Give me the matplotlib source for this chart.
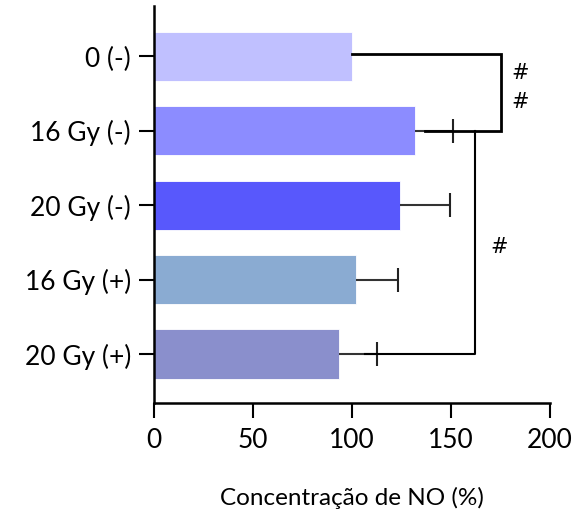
import numpy as np
import matplotlib.pyplot as plt

plt.rcParams['font.family'] = ['Lato', 'DejaVu Sans']

groups = ["0 (-)", "16 Gy (-)", "20 Gy (-)", "16 Gy (+)", "20 Gy (+)"]
no_conc = [100, 132, 124.5, 102, 93.5]
sd = [0, 19, 25, 21, 19]
colors = ["#c0c0ff", "#8c8cff", "#5858fc", "#8aabd2", "#8a8fcc"]
xticks = [0, 50, 100, 150, 200]

fig = plt.figure(figsize=(5.76, 5.2), dpi=100)
ax = fig.add_axes([0.267, 0.2256, 0.688, 0.763])

y = np.arange(len(groups))
vals = np.array(no_conc)
errs = np.array(sd)
ax.barh(y, vals, height=0.66, color=colors, edgecolor="white", linewidth=0.6, zorder=2)

# one-sided error bars (upper side only)
m = errs > 0
ax.hlines(y[m], vals[m], vals[m] + errs[m], color="#333333", lw=1.5, zorder=3)
ax.plot(vals[m] + errs[m], y[m], ls="none", marker="|", ms=17, mew=1.5, color="#222222", zorder=3)

# significance brackets
ax.plot([vals[0], 175, 175, vals[1] + 5], [y[0] - 0.03, y[0] - 0.03, y[1], y[1]],
        color="black", lw=2, zorder=4, solid_joinstyle="miter")
ax.plot([162, 162, vals[4] + 13], [y[1], y[4], y[4]], color="black", lw=1.5, zorder=4)
for hx, hy in [(185, 0.22), (185, 0.61), (174.5, 2.56)]:
    ax.text(hx, hy, "#", ha="center", va="center", fontsize=15, family="DejaVu Sans")

ax.set_xlim(0, 200)
ax.set_ylim(4.655, -0.68)
ax.set_xticks(xticks)
ax.set_yticks(y)
ax.set_yticklabels(groups)
ax.tick_params(axis="both", length=10.5, width=1.5, labelsize=19, direction="out", pad=6)
ax.tick_params(axis="x", pad=8)
for s in ["top", "right"]:
    ax.spines[s].set_visible(False)
for s in ["left", "bottom"]:
    ax.spines[s].set_linewidth(1.8)

ax.set_xlabel("Concentração de NO (%)", fontsize=17.5, labelpad=24)

fig.savefig("out.png", dpi=100)
